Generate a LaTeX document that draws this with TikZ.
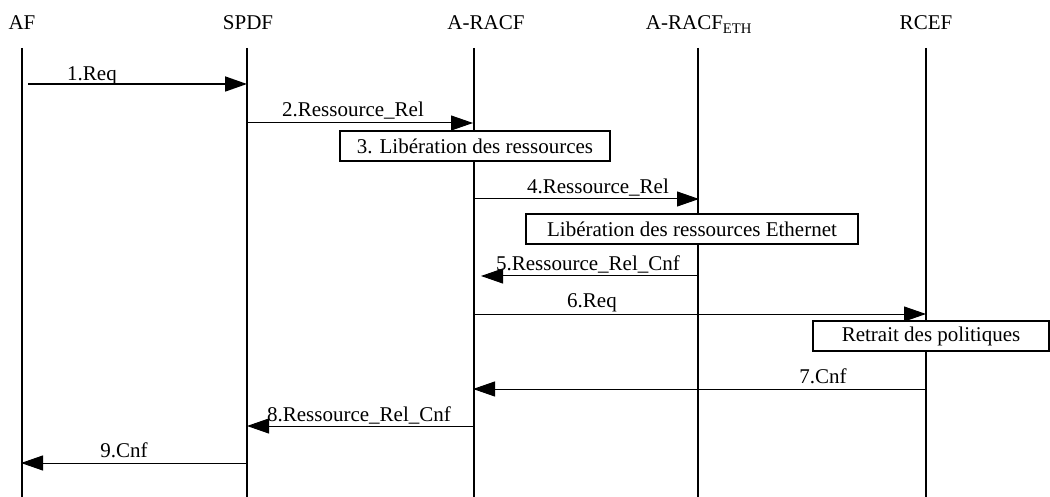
\documentclass[tikz,border=0pt]{standalone}
\usepackage{fontspec}
\setmainfont{Liberation Serif}
\usetikzlibrary{arrows.meta}
\begin{document}
\begin{tikzpicture}[x=1pt,y=-1pt,
  every node/.style={font=\fontsize{21}{25}\selectfont, inner sep=0pt},
  hdr/.style={anchor=base},
  lifeline/.style={line width=1.2pt},
  msg/.style={line width=1pt, -{Triangle[length=22pt,width=15pt]}},
  lbl/.style={anchor=base},
  actbox/.style={draw, line width=1.8pt, fill=white, minimum height=30pt}]
\useasboundingbox (0,0) rectangle (1050,497);

% entity headers
\node[hdr] (af)   at (22,30)  {AF};
\node[hdr] (spdf) at (248,30) {SPDF};
\node[hdr] (racf) at (486,30) {A-RACF};
\node[hdr] (eth)  at (699,30) {A-RACF\textsubscript{ETH}};
\node[hdr] (rcef) at (926,30) {RCEF};

% lifelines
\coordinate (afT) at (22,48);   \coordinate (afB) at (22,497);
\coordinate (spT) at (247,48);  \coordinate (spB) at (247,497);
\coordinate (raT) at (474,48);  \coordinate (raB) at (474,497);
\coordinate (etT) at (698,48);  \coordinate (etB) at (698,497);
\coordinate (rcT) at (926,48);  \coordinate (rcB) at (926,497);
\foreach \t/\b in {afT/afB, spT/spB, raT/raB, etT/etB, rcT/rcB}
  \draw[lifeline] (\t) -- (\b);

% message end points
\coordinate (m1a) at (28,84);   \coordinate (m1b) at (247,84);
\coordinate (m2a) at (247,123); \coordinate (m2b) at (473,123);
\coordinate (m4a) at (474,199); \coordinate (m4b) at (699,199);
\coordinate (m5a) at (698,276); \coordinate (m5b) at (481,276);
\coordinate (m6a) at (474,314); \coordinate (m6b) at (926,314);
\coordinate (m7a) at (926,389); \coordinate (m7b) at (473,389);
\coordinate (m8a) at (474,426); \coordinate (m8b) at (247,426);
\coordinate (m9a) at (247,463); \coordinate (m9b) at (21,463);

% messages
\draw[msg, line width=1.8pt] (m1a) -- (m1b);
\draw[msg] (m2a) -- (m2b);
\draw[msg] (m4a) -- (m4b);
\draw[msg] (m5a) -- (m5b);
\draw[msg] (m6a) -- (m6b);
\draw[msg] (m7a) -- (m7b);
\draw[msg] (m8a) -- (m8b);
\draw[msg] (m9a) -- (m9b);

% message labels
\node[lbl] (l1) at (92,81)  {1.Req};
\node[lbl] (l2) at (353,117) {2.Ressource\_Rel};
\node[lbl] (l4) at (598,194) {4.Ressource\_Rel};
\node[lbl] (l5) at (588,270) {5.Ressource\_Rel\_Cnf};
\node[lbl] (l6) at (592,308) {6.Req};
\node[lbl] (l7) at (823,383) {7.Cnf};
\node[lbl] (l8) at (359,421) {8.Ressource\_Rel\_Cnf};
\node[lbl] (l9) at (124,457) {9.Cnf};

% action boxes
\node[actbox, minimum width=270pt] (b3)  at (475,146) {3. Libération des ressources};
\node[actbox, minimum width=332pt] (bet) at (692,229) {Libération des ressources Ethernet};
\node[actbox, minimum width=236pt] (bre) at (931,336) {Retrait des politiques};
\end{tikzpicture}
\end{document}
